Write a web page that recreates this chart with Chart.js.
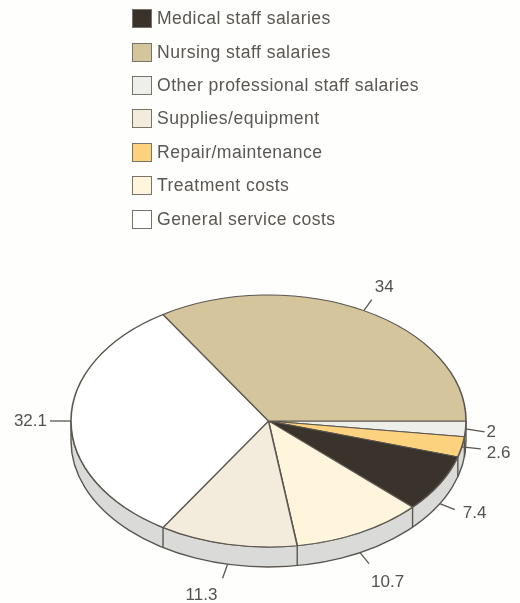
<!DOCTYPE html>
<html>
<head>
<meta charset="utf-8">
<title>Cost breakdown</title>
<script src="https://cdn.jsdelivr.net/npm/chart.js@4"></script>
<style>
  html, body { margin: 0; padding: 0; background: #fefefc; }
  #wrap { position: relative; width: 520px; height: 603px; overflow: hidden; }
  #costPie { position: absolute; left: 0; top: 0; }
  #legend { position: absolute; left: 132px; top: 2px; margin: 0; padding: 0; list-style: none; }
  #legend li { display: flex; align-items: center; height: 33.4px;
    font: 17.6px "Liberation Sans", Arial, sans-serif; letter-spacing: 0.45px; color: #5a5752; white-space: nowrap; }
  #legend i { display: block; box-sizing: border-box; width: 20px; height: 19px; margin-right: 5px; border: 1.5px solid #77736a; }
</style>
</head>
<body>
<div id="wrap">
  <canvas id="costPie" width="520" height="603"></canvas>
  <ul id="legend"></ul>
</div>
<script>
// legend order
const categories = ['Medical staff salaries', 'Nursing staff salaries', 'Other professional staff salaries',
  'Supplies/equipment', 'Repair/maintenance', 'Treatment costs', 'General service costs'];
const values = [7.4, 34, 2, 11.3, 2.6, 10.7, 32.1];
const colors = ['#3a332c', '#d5c59c', '#eeeeea', '#f3ebdc', '#fdd27f', '#fef5dc', '#ffffff'];
// clockwise from 3 o'clock
const sliceOrder = [2, 4, 0, 5, 3, 6, 1];

const ink = '#5b5750';
const rimColor = '#dadad8';
const pieCenter = { x: 268.5, y: 421 };
const pieRadii = { x: 197.5, y: 126 };
const rimDepth = 20;

// leader line per slice: drop to the rim edge, tip offset, text offset from the tip
const callouts = {
  2: { drop: 0, tip: [19, 3], text: [2, 0], align: 'left' },
  4: { drop: 0, tip: [19, 2], text: [6, 4], align: 'left' },
  0: { drop: 20, tip: [15, 6], text: [8, 4], align: 'left' },
  5: { drop: 20, tip: [9, 11], text: [2, 19], align: 'left' },
  3: { drop: 20, tip: [-5, 14], text: [-37, 17], align: 'left' },
  6: { drop: 0, tip: [-21, 0], text: [-3, 0], align: 'right' },
  1: { drop: 0, tip: [8, -11], text: [3, -12], align: 'left' }
};

const legendEl = document.getElementById('legend');
categories.forEach((name, i) => {
  const li = document.createElement('li');
  li.innerHTML = `<i style="background:${colors[i]}"></i>${name}`;
  legendEl.appendChild(li);
});

function slices(chart) {
  return chart.getDatasetMeta(0).data;
}

const tiltedPie = {
  id: 'tiltedPie',
  // grey side wall under the front half
  beforeDatasetsDraw(chart) {
    const ctx = chart.ctx;
    const { x, y } = pieCenter;
    ctx.save();
    ctx.beginPath();
    ctx.ellipse(x, y + rimDepth, pieRadii.x, pieRadii.y, 0, 0, Math.PI);
    ctx.ellipse(x, y, pieRadii.x, pieRadii.y, 0, Math.PI, 0, true);
    ctx.closePath();
    ctx.fillStyle = rimColor;
    ctx.fill();
    ctx.strokeStyle = ink;
    ctx.lineWidth = 1.4;
    ctx.stroke();
    slices(chart).forEach(arc => {
      const a = arc.endAngle;
      if (a <= 0 || a >= Math.PI) return;
      const px = x + pieRadii.x * Math.cos(a);
      const py = y + pieRadii.y * Math.sin(a);
      ctx.beginPath();
      ctx.moveTo(px, py);
      ctx.lineTo(px, py + rimDepth);
      ctx.stroke();
    });
    ctx.restore();
  },
  // squash the circular arcs into the top ellipse
  beforeDatasetDraw(chart) {
    const ctx = chart.ctx;
    const arc = slices(chart)[0];
    ctx.save();
    ctx.translate(pieCenter.x, pieCenter.y);
    ctx.scale(pieRadii.x / arc.outerRadius, pieRadii.y / arc.outerRadius);
    ctx.translate(-arc.x, -arc.y);
  },
  afterDatasetDraw(chart) {
    chart.ctx.restore();
  },
  afterDatasetsDraw(chart) {
    const ctx = chart.ctx;
    ctx.save();
    ctx.strokeStyle = ink;
    ctx.fillStyle = '#55524d';
    ctx.lineWidth = 1.3;
    ctx.font = '17px "Liberation Sans", Arial, sans-serif';
    ctx.textBaseline = 'middle';
    slices(chart).forEach((arc, n) => {
      const idx = sliceOrder[n];
      const c = callouts[idx];
      const mid = (arc.startAngle + arc.endAngle) / 2;
      const sx = pieCenter.x + pieRadii.x * Math.cos(mid);
      const sy = pieCenter.y + pieRadii.y * Math.sin(mid) + c.drop;
      const tx = sx + c.tip[0];
      const ty = sy + c.tip[1];
      ctx.beginPath();
      ctx.moveTo(sx, sy);
      ctx.lineTo(tx, ty);
      ctx.stroke();
      ctx.textAlign = c.align;
      ctx.fillText(String(values[idx]), tx + c.text[0], ty + c.text[1]);
    });
    ctx.restore();
  }
};

new Chart(document.getElementById('costPie'), {
  type: 'pie',
  data: {
    labels: sliceOrder.map(i => categories[i]),
    datasets: [{
      data: sliceOrder.map(i => values[i]),
      backgroundColor: sliceOrder.map(i => colors[i]),
      borderColor: ink,
      borderWidth: 1.6,
      clip: false
    }]
  },
  options: {
    responsive: false,
    animation: false,
    rotation: 90,
    layout: { padding: { left: 60, right: 60, top: 100, bottom: 100 } },
    plugins: { legend: { display: false }, tooltip: { enabled: false } }
  },
  plugins: [tiltedPie]
});
</script>
</body>
</html>
